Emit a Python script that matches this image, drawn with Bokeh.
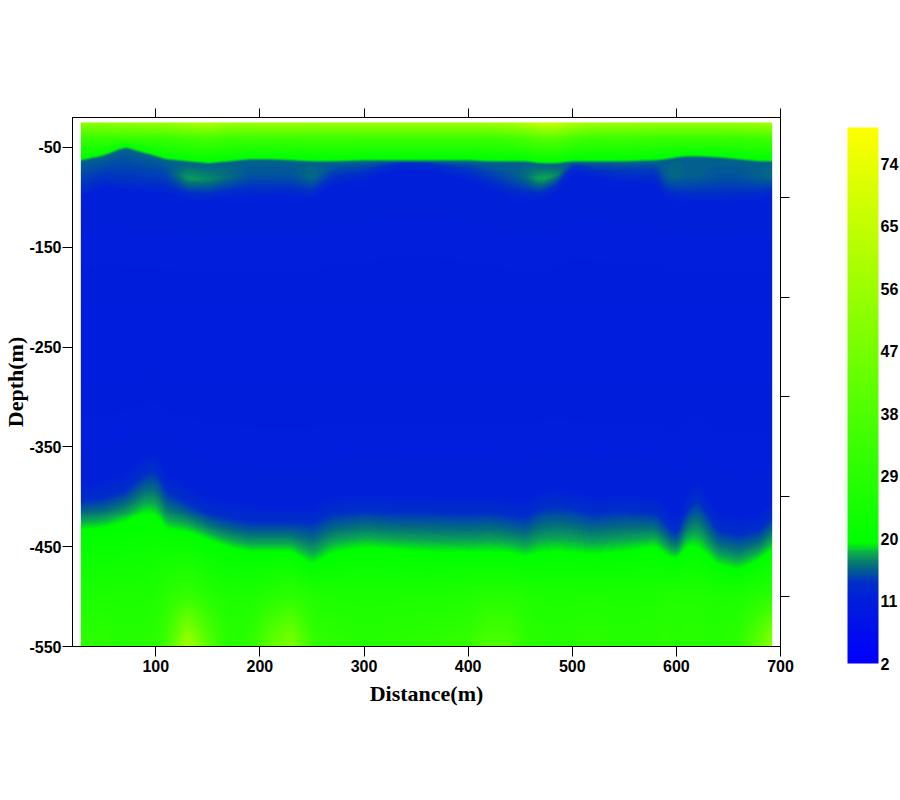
import numpy as np
from bokeh.embed import file_html
from bokeh.models import (Arrow, ColorBar, FixedTicker, LinearAxis, LinearColorMapper)
from bokeh.plotting import figure
from bokeh.resources import INLINE

# Section columns (m) and readings per column
x_cols = [28, 50, 70, 90, 100, 110, 130, 150, 170, 190, 210, 230, 250, 270, 300, 330, 360, 400, 420, 440,
          455, 470, 485, 500, 520, 550, 580, 590, 600, 610, 620, 640, 660, 680, 692]
# resistivity at the surface and just below
v_surface = [52, 52, 53, 54, 54, 55, 58, 60, 56, 55, 56, 56, 55, 56, 56, 56, 56, 56, 56, 58,
             61, 66, 66, 60, 56, 56, 54, 54, 54, 54, 54, 54, 55, 56, 58]
v_upper = [33, 33, 33, 33, 33, 33, 35, 36, 34, 34, 34, 34, 34, 34, 34, 34, 34, 34, 34, 35,
           37, 40, 40, 36, 34, 34, 33, 33, 33, 33, 33, 33, 33, 34, 35]
# depth where the green upper layer ends
d_edge = [-61, -56, -48, -54, -57, -60, -62, -64, -62, -60, -60, -61, -62, -62, -61, -61, -61, -61, -62, -62,
          -62, -64, -64, -62, -62, -62, -61, -60, -58, -57, -57, -58, -60, -62, -62]
# depth where the teal band ends, and the band's strongest value
d_band = [-91, -81, -85, -86, -87, -88, -95, -96, -93, -91, -91, -91, -94, -80, -75, -65, -65, -75, -83, -91,
          -94, -95, -88, -68, -72, -78, -78, -93, -95, -96, -96, -96, -95, -94, -91]
v_band = [14.5, 14.5, 14.5, 14.5, 14.5, 14.5, 17.5, 17, 16, 15, 15, 15, 16, 14.5, 14.5, 14.2, 14.2, 14.2, 14.5, 15,
          16, 18, 17, 14.2, 14.5, 14.2, 14.2, 15.5, 16, 15.5, 15.5, 15, 15, 15.5, 16]
# depth where the lower layer starts to rise, and where it is fully green
d_rise = [-404, -401, -394, -376, -374, -394, -406, -417, -422, -426, -426, -426, -427, -417, -414, -416, -416, -417, -416, -419,
          -422, -411, -409, -411, -417, -414, -417, -427, -439, -414, -401, -434, -439, -434, -421]
d_green = [-434, -432, -426, -417, -419, -434, -436, -444, -452, -456, -456, -456, -469, -457, -452, -454, -456, -457, -456, -457,
           -461, -457, -456, -457, -459, -456, -451, -459, -464, -451, -451, -469, -474, -464, -454]
v_500 = [26, 26, 26, 26, 27, 29, 32, 28, 26, 26, 28, 30, 27, 26, 26, 26, 26, 27, 28, 28,
         27, 26, 26, 26, 26, 26, 26, 27, 27, 27, 27, 26, 26, 28, 29]
v_550 = [30, 30, 28, 29, 30, 34, 59, 40, 28, 30, 42, 50, 32, 30, 28, 29, 30, 32, 38, 37,
         30, 29, 28, 29, 30, 28, 29, 30, 28, 29, 29, 28, 30, 42, 54]
v_core_top = 11.5
v_core_mid = 10.5

x_ticks = [100, 200, 300, 400, 500, 600, 700]
y_left_ticks = [-50, -150, -250, -350, -450, -550]
y_left_labels = ["-50", "-150", "-250", "-350", "-450", "-550"]
y_right_ticks = [-100, -200, -300, -400, -500]
bar_ticks = [2, 11, 20, 29, 38, 47, 56, 65, 74]

# colour scale anchors: value, r, g, b
scale_v = [2, 11, 13.7, 14.4, 16, 17.8, 19.3, 79.2]
scale_r = [0, 0, 0, 0, 5, 12, 0, 255]
scale_g = [0, 30, 48, 70, 110, 170, 255, 255]
scale_b = [255, 220, 200, 175, 125, 80, 0, 0]

levels = np.linspace(2, 79.2, 300)
palette = ["#%02x%02x%02x" % (int(np.interp(v, scale_v, scale_r)), int(np.interp(v, scale_v, scale_g)),
                              int(np.interp(v, scale_v, scale_b))) for v in levels]

# Build the gridded section from the column readings
gx = np.arange(x_cols[0], x_cols[-1] + 1, 1.0)
gy = np.arange(-550, -24, 1.0)
kernel = np.hanning(15)
kernel = kernel / kernel.sum()
def along(a):
    line = np.interp(gx, x_cols, a)
    pad = np.r_[np.full(7, line[0]), line, np.full(7, line[-1])]
    return np.convolve(pad, kernel, mode="valid")
edge, band, vband, rise, green = map(along, (d_edge, d_band, v_band, d_rise, d_green))
vs, vu, v5, v55 = map(along, (v_surface, v_upper, v_500, v_550))
Z = np.zeros((gy.size, gx.size))
for i in range(gx.size):
    mid_band = (edge[i] - 3 + band[i]) / 2
    dp = [25, 40, -edge[i], 3 - edge[i], -mid_band, -band[i], 8 - band[i], 250, -rise[i] - 18, -rise[i], -green[i], 500, 550]
    vp = [vs[i], vu[i], 19.6, 15.6, vband[i], 13.7, v_core_top, v_core_mid, v_core_top, 13.7, 19.4, v5[i], v55[i]]
    Z[:, i] = np.interp(-gy, dp, vp)

mapper = LinearColorMapper(palette=palette, low=2, high=79.2)

p = figure(frame_width=708, frame_height=529, min_border_left=65, min_border_top=117,
           min_border_right=119, min_border_bottom=82, x_range=(20, 700), y_range=(-550, -20),
           output_backend="svg", toolbar_location=None, tools="", outline_line_color="black",
           outline_line_width=1, background_fill_color="white")
p.grid.visible = False
p.image(image=[Z], x=gx[0], y=gy[0], dw=gx[-1] - gx[0], dh=gy[-1] - gy[0], color_mapper=mapper)

FONT = "Liberation Sans"
SERIF = "Liberation Serif"

def style(ax, out, labels=True):
    ax.axis_line_color = "black"
    ax.axis_line_width = 1
    ax.major_tick_line_color = "black"
    ax.major_tick_line_width = 1
    ax.major_tick_in = 0
    ax.major_tick_out = out
    ax.minor_tick_line_color = None
    if labels:
        ax.major_label_text_font = FONT
        ax.major_label_text_font_style = "bold"
        ax.major_label_text_font_size = "16px"
        ax.major_label_text_color = "black"

xa = p.xaxis[0]
xa.ticker = FixedTicker(ticks=x_ticks)
xa.axis_label = "Distance(m)"
xa.axis_label_text_font = SERIF
xa.axis_label_text_font_style = "bold"
xa.axis_label_text_font_size = "22px"
xa.axis_label_text_color = "black"
xa.axis_label_standoff = 6
xa.major_label_standoff = 3
style(xa, 10)

ya = p.yaxis[0]
ya.ticker = FixedTicker(ticks=y_left_ticks)
ya.major_label_overrides = dict(zip(y_left_ticks, y_left_labels))
ya.axis_label = "Depth(m)"
ya.axis_label_text_font = SERIF
ya.axis_label_text_font_style = "bold"
ya.axis_label_text_font_size = "22px"
ya.axis_label_text_color = "black"
ya.axis_label_standoff = -2
ya.major_label_standoff = 1
ya.major_label_orientation = "horizontal"
style(ya, 10)

top = LinearAxis(ticker=FixedTicker(ticks=x_ticks), major_label_overrides={t: "" for t in x_ticks})
style(top, 9, labels=False)
p.add_layout(top, "above")
right = LinearAxis(ticker=FixedTicker(ticks=y_right_ticks), major_label_overrides={t: "" for t in y_right_ticks})
style(right, 9, labels=False)
p.add_layout(right, "right")

# right-hand scale carries on below the frame to -600
p.add_layout(Arrow(end=None, x_start=700, y_start=-550, x_end=700, y_end=-600, line_color="black", line_width=1))
p.add_layout(Arrow(end=None, x_start=700, y_start=-600, x_end=708.6, y_end=-600, line_color="black", line_width=1))

cb = ColorBar(color_mapper=mapper, ticker=FixedTicker(ticks=bar_ticks), location=(775, -17), width=31, height=536,
              padding=0, margin=0, bar_line_color=None, major_tick_line_color=None, minor_tick_line_color=None,
              label_standoff=2, major_label_text_font=FONT, major_label_text_font_style="bold",
              major_label_text_font_size="16px", major_label_text_color="black", background_fill_color=None,
              border_line_color=None)
p.add_layout(cb)

open("out.html", "w").write(file_html(p, INLINE))
